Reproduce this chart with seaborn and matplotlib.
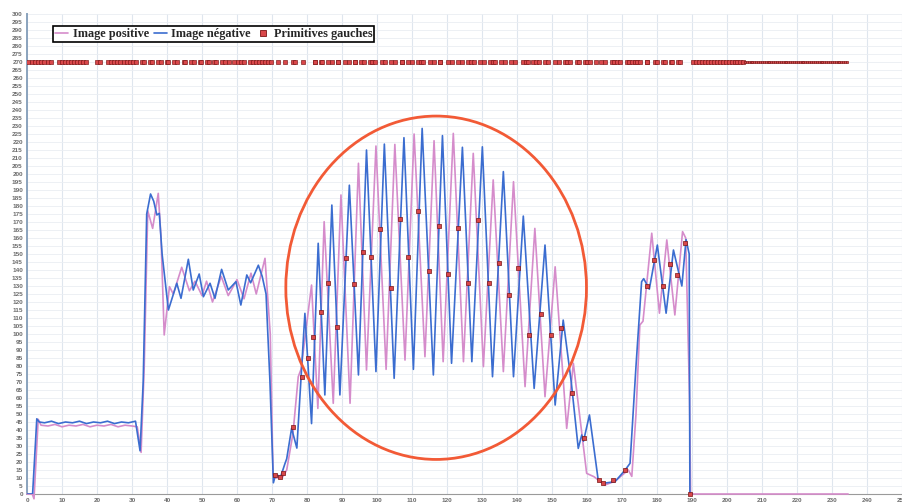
import numpy as np
import pandas as pd
import matplotlib
matplotlib.use("Agg")
import matplotlib.pyplot as plt
import seaborn as sns
from matplotlib.lines import Line2D
from matplotlib.patches import Ellipse

# ---------------- data ----------------
pos_x = [0, 1.5, 2.0, 3.2, 4, 6, 8, 10, 12, 14, 16, 18, 20, 22, 24, 26, 28, 30, 31.5,
         32.6, 33.5, 34.5, 35.9, 37.5, 38.3, 39.2, 40.7, 41.8, 44.2, 46.4, 48, 50, 51.3,
         53, 55.5, 57.5, 60, 62, 64, 65.5, 68, 69.5, 70.3, 71, 73, 74.2, 76, 77.5, 78.3,
         81.3, 83.1, 84.9, 87.5, 89.7, 92.3, 94.7, 97, 99.7, 102.6, 105.1, 108, 110.6,
         113.7, 116.3, 118.9, 121.8, 124.7, 127.5, 130.4, 133.2, 136.1, 139, 142.3, 145.1,
         148, 150.9, 154.2, 156.1, 159.9, 162, 165.1, 168, 171.8, 172.8, 174, 175.1, 176,
         178.5, 180.7, 182.8, 185.1, 187.3, 188.2, 189.3, 189.6, 234.6]
pos_y = [0, 0, -3, 46.7, 43, 42.5, 43.5, 42, 43, 42.5, 43.5, 42, 43, 42.5, 43.5, 42, 43, 42.5, 42,
         26, 80, 177, 166, 187.9, 160, 99.4, 129.6, 125, 141.7, 127, 133, 124, 133,
         120, 136, 124, 134, 122, 138, 125, 147.3, 100, 12, 10, 10.5, 15, 38, 73.3, 78,
         130.6, 53.5, 170.2, 56.7, 186.9, 56.7, 206.7, 77.5, 217.5, 77.9, 218.5, 83.7, 225,
         85.8, 220.8, 82.7, 225.4, 82.7, 212.9, 79.6, 196.3, 76.5, 195.2, 67.1, 166,
         60.8, 142, 41, 81.7, 12.9, 10.8, 5.6, 8, 15, 11, 50, 105.6, 108,
         163, 113, 158.8, 111.9, 164, 160, 60, 0, 0]

neg_x = [0, 1.6, 2.8, 3.5, 5, 7, 9, 11, 13, 15, 17, 19, 21, 23, 25, 27, 29, 31, 32.3,
         33.2, 34.2, 35.3, 36.2, 37.1, 37.8, 38.6, 40.4, 42.8, 44, 46.1, 47.5, 49.2, 50.4,
         52.3, 53.7, 55.6, 57.5, 59.7, 61.1, 62.8, 63.9, 66.1, 67.2, 68.3, 69.4, 70.4, 71,
         72.5, 73.7, 74.2, 75.6, 77.1, 79.4, 81.3, 83.2, 85.1, 87.1, 89.4, 92.1, 94.7, 97,
         99.7, 102.1, 104.9, 107.7, 110.4, 112.9, 116.1, 118.7, 121.3, 124.4, 127.1, 130.1,
         133, 136.1, 139, 141.8, 144.9, 148, 150.9, 153.2, 155.5, 157.5, 158.5, 159, 160.7,
         163.2, 164.7, 168, 170.9, 172.3, 174, 175.6, 176.2, 177.8, 180.1, 182.6, 184.7,
         187.1, 188.3, 189.2, 189.4, 190]
neg_y = [0, 0, 47, 45, 44.5, 45.5, 44, 45, 44.5, 45.5, 44, 45, 44.5, 45.5, 44, 45, 44.5, 45.5, 27,
         70, 175, 187.5, 183, 174.4, 175.4, 150, 115, 131.7, 122.3, 146.7, 127.5, 137.5, 123.3,
         131.7, 122.3, 140.4, 127.5, 132.7, 118.1, 136.9, 132, 143, 136, 125, 71, 7, 12,
         11, 19, 22, 41, 28.7, 112.9, 44, 156.7, 61.9, 180.6, 61.9, 193, 74.4, 215,
         76.5, 218.7, 72.3, 222.7, 77.9, 228.5, 74.4, 224, 81.7, 216.7, 82.7, 217,
         73.3, 201.5, 73.3, 173.7, 66, 155.6, 55.6, 108.7, 70, 28.5, 36.9, 33, 49.4,
         8.7, 6.7, 7.7, 15, 19.2, 80, 132.7, 134.6, 128, 155.6, 113, 152.5,
         130, 159, 150, 0, 0]

prim_x = [70.9, 72.3, 73.2, 76.1, 78.5, 80.4, 81.8, 83.9, 86.1, 88.7, 91.0, 93.5, 95.9, 98.2,
          100.9, 103.9, 106.6, 108.9, 111.8, 114.9, 117.7, 120.4, 123.2, 125.9, 128.9, 132,
          134.9, 137.7, 140.4, 143.5, 146.8, 149.6, 152.6, 155.8, 159.0, 163.5, 164.6, 167.5,
          170.9, 177.2, 179.2, 181.8, 183.7, 185.8, 188, 189.4]
prim_y = [11.9, 10.8, 13.3, 42.1, 73.3, 84.8, 98.3, 113.5, 131.7, 104.6, 147.3, 131.3, 151.5,
          147.9, 165.6, 128.5, 171.7, 147.9, 177.1, 139.4, 167.7, 137.3, 166.5, 132.1, 171.2,
          131.7, 144.6, 124.4, 141, 99.4, 112.3, 99.4, 104, 63.3, 34.8, 8.7, 7, 8.7, 15, 130,
          146.2, 130, 143.5, 136.9, 157.1, 0]

# runs of "Primitives gauches" markers on the 270 line (left edge, right edge of each dash)
top_level = 270
top_runs = [(0, 7.2), (8.8, 17.2), (19.6, 21.4), (22.8, 31.5), (32.3, 33.8), (34.6, 36.0),
            (37.0, 38.8), (39.6, 40.8), (41.6, 43.4), (44.3, 45.5), (46.3, 48.0), (48.9, 50.2),
            (51.0, 52.3), (53.0, 54.4), (55.2, 58.0), (58.8, 62.5), (63.2, 70.0),
            (71.8, 71.8), (73.7, 73.7), (75.7, 77.1), (78.9, 78.9), (81.8, 82.8), (83.7, 84.7),
            (85.6, 87.5), (88.5, 89.4), (90.4, 92.3), (93.2, 94.2), (95.1, 96.6), (97.5, 99.9),
            (100.9, 102.8), (103.7, 105.6), (106.6, 107.5), (108.5, 110.4), (111.3, 113.7),
            (114.7, 116.6), (117.5, 118.5), (119.9, 121.8), (122.8, 124.7), (125.6, 128),
            (128.9, 130.9), (131.8, 134.2), (135.1, 137.1), (138, 139.9), (141.3, 143.7),
            (144.2, 146.6), (147.5, 149.4), (150.4, 152.3), (153.2, 155.6), (156.6, 158),
            (158.9, 161.3), (162.3, 162.9), (163.7, 165.6), (166.6, 169.9), (170.9, 175.6),
            (176.6, 177.5), (178.9, 180.4), (181.3, 182.8), (183.7, 184.7), (185.6, 187),
            (189.9, 205.1)]
top_dense_run = (205.1, 234.7)

x_ticks = list(range(0, 260, 10))
y_ticks = list(range(0, 305, 5))

labels = ["Image positive", "Image négative", "Primitives gauches"]

# ---------------- style ----------------
PINK = "#d58ccb"
BLUE = "#3b6dd0"
RED_FILL = "#d9474a"
RED_EDGE = "#7a1414"
CIRCLE = "#f25a36"

sns.set_style("white")
plt.rcParams["font.family"] = ["Liberation Sans", "DejaVu Sans"]

fig = plt.figure(figsize=(9.02, 5.03), dpi=100)
ax = fig.add_axes([27 / 902, 1 - 494 / 503, 875 / 902, 480 / 503])

# grid
for xv in x_ticks:
    ax.axvline(xv, color="#dfe6ee", lw=0.8, zorder=0)
for yv in y_ticks:
    ax.axhline(yv, color="#eaeef3", lw=0.6, zorder=0)

df_pos = pd.DataFrame({"x": pos_x, "y": pos_y})
df_neg = pd.DataFrame({"x": neg_x, "y": neg_y})
df_prim = pd.DataFrame({"x": prim_x, "y": prim_y})

sns.lineplot(data=df_pos, x="x", y="y", ax=ax, color=PINK, lw=1.2, sort=False,
             estimator=None, zorder=3, clip_on=False)
sns.lineplot(data=df_neg, x="x", y="y", ax=ax, color=BLUE, lw=1.2, sort=False,
             estimator=None, zorder=4)

# top-row markers: marker centres sit half a marker inside each dash's edges
half = 0.42
tx = []
for s, e in top_runs:
    a, b = s + half, e - half
    if b <= a:
        tx.append((s + e) / 2)
        continue
    n = max(2, int(round((b - a) / 0.85)) + 1)
    tx.extend(np.linspace(a, b, n))
df_top = pd.DataFrame({"x": tx, "y": [top_level] * len(tx)})
sns.scatterplot(data=df_top, x="x", y="y", ax=ax, marker="s", s=5.5, color=RED_FILL,
                edgecolor=RED_EDGE, linewidth=0.45, zorder=5)
s, e = top_dense_run
n = int(round((e - s) / 0.55)) + 1
df_top2 = pd.DataFrame({"x": np.linspace(s, e - half, n), "y": [top_level] * n})
sns.scatterplot(data=df_top2, x="x", y="y", ax=ax, marker="s", s=4, color=RED_FILL,
                edgecolor=RED_EDGE, linewidth=0.45, zorder=5)

sns.scatterplot(data=df_prim, x="x", y="y", ax=ax, marker="s", s=7, color=RED_FILL,
                edgecolor=RED_EDGE, linewidth=0.5, zorder=6, clip_on=False)

ax.add_patch(Ellipse((116.9, 128.9), 85.9, 214.6, fill=False, ec=CIRCLE, lw=2.0, zorder=7))

ax.set_xlim(0, 250)
ax.set_ylim(0, 300)
ax.set_xticks(x_ticks)
ax.set_yticks(y_ticks)
ax.set_xlabel("")
ax.set_ylabel("")
ax.tick_params(axis="both", labelsize=4.6, colors="#6b6b6b", length=2, width=0.6, pad=1)
for lab in ax.get_xticklabels() + ax.get_yticklabels():
    lab.set_fontweight("bold")
for side in ["top", "right"]:
    ax.spines[side].set_visible(False)
ax.spines["left"].set_color("#8aa3bd")
ax.spines["left"].set_linewidth(1.4)
ax.spines["bottom"].set_color("#9a9a9a")
ax.spines["bottom"].set_linewidth(0.8)

handles = [Line2D([], [], color=PINK, lw=1.2),
           Line2D([], [], color=BLUE, lw=1.2),
           Line2D([], [], color=RED_FILL, marker="s", ls="", markersize=3.8,
                  markeredgecolor=RED_EDGE, markeredgewidth=0.6)]
leg = fig.legend(handles, labels, loc="upper left", bbox_to_anchor=(53 / 902, 1 - 26 / 503),
                 ncol=3, frameon=True, fancybox=False, borderaxespad=0, borderpad=0.15,
                 handlelength=1.1, handletextpad=0.35, columnspacing=0.4,
                 prop={"family": "Liberation Serif", "weight": "bold", "size": 8.8})
leg.get_frame().set_edgecolor("black")
leg.get_frame().set_linewidth(1.2)
leg.get_frame().set_facecolor("white")
leg.get_frame().set_alpha(1)

fig.savefig("out.png", dpi=100)
